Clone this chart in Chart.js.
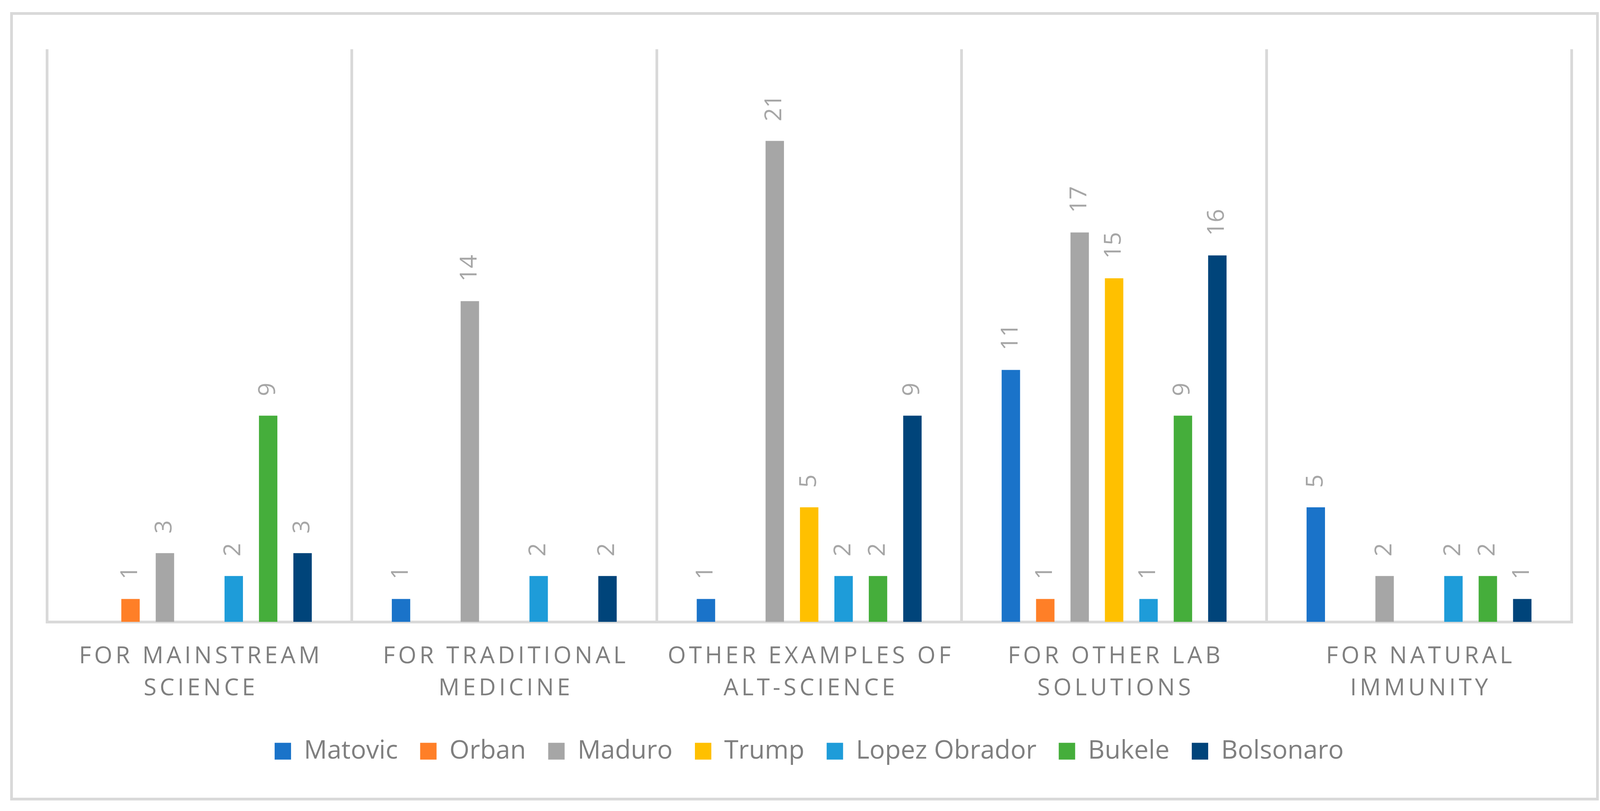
<!DOCTYPE html>
<html>
<head>
<meta charset="utf-8">
<script src="https://cdn.jsdelivr.net/npm/chart.js@4/dist/chart.umd.min.js"></script>
<style>
  html, body { margin: 0; padding: 0; background: #ffffff; }
  #wrap { position: relative; width: 4145px; height: 2075px; }
  #frame {
    position: absolute; left: 26px; top: 31px;
    width: 4053px; height: 2003px;
    border: 7px solid #d9d9d9; box-sizing: content-box;
    pointer-events: none;
  }
  #grafico { position: absolute; left: 0; top: 0; }
</style>
</head>
<body>
<div id="wrap">
  <div id="frame"></div>
  <canvas id="grafico" width="4145" height="2075"></canvas>
</div>
<script>
// Categorias (cada uma em duas linhas, como no original)
const categorias = [
    ['FOR MAINSTREAM', 'SCIENCE'],
    ['FOR TRADITIONAL', 'MEDICINE'],
    ['OTHER EXAMPLES OF', 'ALT-SCIENCE'],
    ['FOR OTHER LAB', 'SOLUTIONS'],
    ['FOR NATURAL', 'IMMUNITY']
];

// Valores por líder (null = sem barra)
const matovic      = [null, 1, 1, 11, 5];
const orban        = [1, null, null, 1, null];
const maduro       = [3, 14, 21, 17, 2];
const trump        = [null, null, 5, 15, null];
const lopezObrador = [2, 2, 2, 1, 2];
const bukele       = [9, null, 2, 9, 2];
const bolsonaro    = [3, 2, 9, 16, 1];

const cinzaTexto = '#7f7f7f';
const cinzaRotulo = '#a6a6a6';
const cinzaLinha = '#d9d9d9';
const fonte = "'Open Sans', 'Liberation Sans', sans-serif";

// Rótulos de valor girados acima das barras
const rotulosValor = {
    id: 'rotulosValor',
    afterDatasetsDraw(chart) {
        const ctx = chart.ctx;
        chart.data.datasets.forEach((ds, i) => {
            const meta = chart.getDatasetMeta(i);
            meta.data.forEach((bar, j) => {
                const v = ds.data[j];
                if (v === null || v === undefined) return;
                ctx.save();
                ctx.translate(bar.x, bar.y - 50);
                ctx.rotate(-Math.PI / 2);
                ctx.font = '60px ' + fonte;
                ctx.fillStyle = cinzaRotulo;
                ctx.textAlign = 'left';
                ctx.textBaseline = 'middle';
                ctx.fillText(String(v), 0, 0);
                ctx.restore();
            });
        });
    }
};

// Nomes das categorias com espaçamento entre letras, sob cada grupo
const nomesCategorias = {
    id: 'nomesCategorias',
    afterDraw(chart) {
        const ctx = chart.ctx;
        const eixo = chart.scales.x;
        const espaco = 8;
        const altLinha = 82;
        ctx.save();
        ctx.font = '60px ' + fonte;
        ctx.fillStyle = cinzaTexto;
        ctx.textAlign = 'left';
        ctx.textBaseline = 'middle';
        categorias.forEach((linhas, i) => {
            const cx = eixo.getPixelForTick(i);
            linhas.forEach((texto, k) => {
                const letras = texto.split('');
                let largura = espaco * (letras.length - 1);
                letras.forEach(c => { largura += ctx.measureText(c).width; });
                let x = cx - largura / 2;
                const y = eixo.top + 48 + altLinha * (k + 0.5);
                letras.forEach(c => {
                    ctx.fillText(c, x, y);
                    x += ctx.measureText(c).width + espaco;
                });
            });
        });
        ctx.restore();
    }
};

const ctx = document.getElementById('grafico').getContext('2d');
const grafico = new Chart(ctx, {
    type: 'bar',
    data: {
        labels: categorias,
        datasets: [
            { label: 'Matovic', data: matovic, backgroundColor: '#1a73c9' },
            { label: 'Orban', data: orban, backgroundColor: '#ff7f27' },
            { label: 'Maduro', data: maduro, backgroundColor: '#a6a6a6' },
            { label: 'Trump', data: trump, backgroundColor: '#ffc000' },
            { label: 'Lopez Obrador', data: lopezObrador, backgroundColor: '#1e9cd9' },
            { label: 'Bukele', data: bukele, backgroundColor: '#45ae3b' },
            { label: 'Bolsonaro', data: bolsonaro, backgroundColor: '#00447a' }
        ]
    },
    options: {
        responsive: false,
        animation: false,
        devicePixelRatio: 1,
        datasets: {
            bar: {
                categoryPercentage: 0.79,
                barPercentage: 0.535,
                borderWidth: 0
            }
        },
        layout: {
            padding: { left: 120, right: 122, top: 126, bottom: 110 }
        },
        scales: {
            x: {
                grid: {
                    color: cinzaLinha,
                    lineWidth: 7,
                    offset: true,
                    drawTicks: false
                },
                border: { display: true, color: cinzaLinha, width: 7 },
                ticks: { display: false },
                afterFit: (escala) => { escala.height = 241; }
            },
            y: {
                display: false,
                min: 0,
                max: 25
            }
        },
        plugins: {
            legend: {
                position: 'bottom',
                labels: {
                    boxWidth: 42,
                    boxHeight: 43,
                    padding: 57,
                    color: cinzaTexto,
                    font: { family: fonte, size: 66 }
                }
            },
            tooltip: { enabled: false }
        }
    },
    plugins: [rotulosValor, nomesCategorias]
});
</script>
</body>
</html>
